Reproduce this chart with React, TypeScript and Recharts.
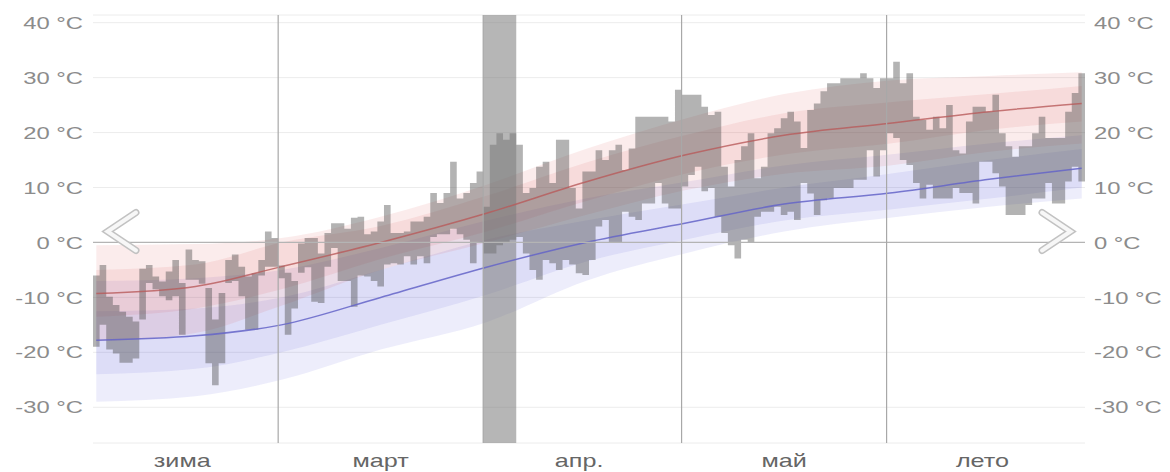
import React from 'react';
import {
  ComposedChart,
  Area,
  Line,
  XAxis,
  YAxis,
  CartesianGrid,
  ReferenceLine,
  ReferenceArea,
} from 'recharts';

// daily max / min temperatures, Feb 1 .. Jun 30 (150 days)
const maxTemp = [
  -6, -4.1, -9.9, -11.4, -12.6, -13.5, -14.4, -4.8, -4.1, -6.2, -7.1, -5.3, -3.2, -7.4, -1.3, -3.2, -3.4, -8.3, -14, -9.2,
  -3.2, -2.2, -4.4, -6.2, -5.6, -3.2, 2, 0.8,
  -4.2, -5.5, -7, -0.2, 0.8, 0.8, -2, 1.7, 3.5, 3.5, 2.5, 4.5, 4.7, 1.5, 2, 3.8, 6.8, 1.7, 1.7, 2, 3.8, 3.8,
  4.7, 9, 7.2, 9, 14.7, 8, 9, 10.8, 12.9,
  6.5, 17.8, 19.9, 18.7, 19.9, 17.8, 9, 9.9, 13.8, 14.7, 10.8, 18.7, 18.7, 9.9, 6.2, 12.9, 12.9, 16.8, 15, 16.8,
  17.8, 13.2, 17.1, 22.9, 22.9, 22.9, 22.9, 22.9, 22, 27.8,
  26.9, 26.9, 26.9, 24.7, 23.2, 23.8, 13.8, 10.2, 15, 17.5, 19.9, 11.7, 13.8, 19.9, 20.8, 22.6, 23.8, 22, 17.2, 24.1,
  25.3, 27.5, 29, 29, 29.9, 29.9, 29.9, 30.8, 29.9, 28.1, 29.9,
  29.9, 32.9, 29, 30.8, 22.9, 22.3, 20.5, 22.9, 20.8, 25, 16.8, 16.2, 22, 24.7, 24.7, 23.8, 26.9, 19.9, 17.5, 15.6,
  17.5, 17.5, 19.9, 22.9, 19, 19, 19, 23.8, 27.2, 30.8,
];
const minTemp = [
  -19, -15, -19.5, -20.2, -21.9, -21.9, -21.1, -14, -7.4, -8.5, -9.8, -10.5, -9.8, -16.8, -6.8, -6.8, -7.5, -22, -26, -22,
  -7.4, -7, -9.8, -15.9, -15.9, -6, -4.4, -4.4,
  -6.5, -16.8, -12, -5.5, -4.5, -10.8, -11, -4.4, -1, -7, -7, -11.7, -6, -6.2, -7, -8, -4, -3.8, -4, -2.5, -4, -2.5,
  -3.8, 1, 1.5, 1.5, 2.5, 1.5, 0.5, -3.8, 0,
  -2, -2, -0.5, 0, 0.5, 1, -2, -5, -6.8, -3.2, -3.8, -5, -3.2, -4, -5.6, -5.9, -3.2, 2.9, 4.1, 0,
  0, 5.6, 4.7, 4.1, 7.1, 7.1, 10.8, 7.1, 6.2, 6.2,
  10.2, 12.3, 13.8, 9.3, 9.9, 4.7, 1.7, -0.5, -2.9, 0.5, 0, 4.7, 5.6, 5.6, 6.5, 5, 5.6, 4.1, 10.8, 8.9,
  5, 7.7, 8, 9.9, 9.9, 9.9, 11.4, 11.4, 16.8, 12, 16.8,
  19.9, 19, 15, 14.1, 10.8, 8, 10.5, 8, 8, 8, 9.9, 9, 9, 7.1, 14.7, 14.7, 12.6, 10.2, 5, 5,
  5, 6.8, 8, 8, 10.8, 7.1, 7.1, 11.1, 13.8, 11.1,
];

const monthStartDays = [28, 59, 89, 120];
const monthLabelDays = [13, 43, 73, 104, 134];
const monthLabels = ['зима', 'март', 'апр.', 'май', 'лето'];
const highlightDays = [59, 63];
const yTicks = [-30, -20, -10, 0, 10, 20, 30, 40];

// climate bands, read at a few days along the season
const bandDays = [0, 15, 28, 43, 59, 74, 89, 104, 120, 135, 149];
const redMean = [-9.3, -8, -4.4, 0, 5.3, 11, 15.9, 19.5, 21.7, 23.8, 25.3];
const redOuterHi = [-0.5, -0.3, 0.8, 4.7, 10.5, 17, 22.5, 27, 29.5, 30.3, 31];
const redOuterLo = [-18, -16.5, -11.5, -5, 0, 5, 9.5, 12.5, 14, 16.5, 18];
const redInnerHi = [-5, -4, 0, 3, 8.5, 14.5, 19.5, 23.5, 25.5, 27, 28.5];
const redInnerLo = [-13.5, -12, -8.5, -3, 2, 7.5, 12.5, 16, 18, 20.5, 22];
const blueMean = [-17.8, -17, -15, -10, -4.5, 0, 3.5, 7, 9, 11.5, 13.5];
const blueOuterHi = [-7, -6.5, -5, -1, 4, 8, 11, 14, 16, 18, 19.5];
const blueOuterLo = [-29, -28, -25, -19.5, -14.5, -7, -2, 2, 4.5, 6.5, 8];
const blueInnerHi = [-12.5, -12, -10, -5, 0.5, 4, 7, 10, 12.5, 15, 17];
const blueInnerLo = [-24, -23, -20, -15, -9.5, -3.5, 0.5, 4, 6, 8, 10];

const dailyData = maxTemp.map((hi, i) => ({ day: i, range: [minTemp[i], hi] }));

// each day is a step from its start to the next day's start; the last day closes at day 150
const stepData = [
  ...dailyData.map((d) => ({ x: d.day, range: d.range })),
  { x: maxTemp.length, range: dailyData[dailyData.length - 1].range },
];

const bandData = bandDays.map((d, i) => ({
  x: d + 0.5,
  redOuter: [redOuterLo[i], redOuterHi[i]],
  redInner: [redInnerLo[i], redInnerHi[i]],
  redMean: redMean[i],
  blueOuter: [blueOuterLo[i], blueOuterHi[i]],
  blueInner: [blueInnerLo[i], blueInnerHi[i]],
  blueMean: blueMean[i],
}));

const FONT = '"Liberation Sans", Arial, sans-serif';
const CHART_H = 472;
const X_AXIS_H = 29;
const PLOT_BOTTOM = CHART_H - X_AXIS_H;

const YTick = (props: any) => {
  const { x, y, payload, side } = props;
  return (
    <g transform={`translate(${x},${y}) scale(1.4,1)`}>
      <text
        textAnchor={side === 'left' ? 'end' : 'start'}
        dy="0.36em"
        fontSize={17}
        fill="#8c8c8c"
        fontFamily={FONT}
      >
        {`${payload.value} °C`}
      </text>
    </g>
  );
};

const XTick = (props: any) => {
  const { x, payload } = props;
  const idx = monthLabelDays.indexOf(payload.value);
  return (
    <g transform={`translate(${x},${PLOT_BOTTOM + 24}) scale(1.4,1)`}>
      <text textAnchor="middle" fontSize={18} fill="#666" fontFamily={FONT}>
        {monthLabels[idx]}
      </text>
    </g>
  );
};

const Chevron = ({ points }: { points: string }) => (
  <g>
    <polyline points={points} fill="none" stroke="#c2c2c2" strokeWidth={7} strokeLinejoin="miter" strokeLinecap="round" />
    <polyline points={points} fill="none" stroke="#f7f7f7" strokeWidth={4} strokeLinejoin="miter" strokeLinecap="round" />
  </g>
);

export default function App() {
  return (
    <div style={{ position: 'absolute', left: 0, top: 0, width: 1170, height: CHART_H, background: '#fff' }}>
      <ComposedChart
        width={1170}
        height={CHART_H}
        data={dailyData}
        margin={{ top: 15, right: 0, bottom: 0, left: 0 }}
        style={{ fontFamily: FONT }}
      >
        <CartesianGrid xAxisId="m" yAxisId="l" vertical={false} stroke="#ececec" />
        <XAxis
          xAxisId="m"
          dataKey="day"
          type="category"
          scale="band"
          ticks={monthLabelDays}
          interval={0}
          tickLine={false}
          axisLine={false}
          tickSize={0}
          tickMargin={0}
          height={X_AXIS_H}
          tick={<XTick />}
        />
        <XAxis xAxisId="b" type="number" dataKey="x" domain={[0, 150]} allowDataOverflow hide />
        <YAxis
          yAxisId="l"
          orientation="left"
          width={93}
          domain={[-36.5, 41.4]}
          ticks={yTicks}
          allowDataOverflow
          tickLine={false}
          axisLine={false}
          tickSize={0}
          tickMargin={10}
          tick={<YTick side="left" />}
        />
        <YAxis
          yAxisId="r"
          orientation="right"
          width={85}
          domain={[-36.5, 41.4]}
          ticks={yTicks}
          allowDataOverflow
          tickLine={false}
          axisLine={false}
          tickSize={0}
          tickMargin={9}
          tick={<YTick side="right" />}
        />

        <Area data={bandData} xAxisId="b" yAxisId="l" dataKey="blueOuter" type="monotone" stroke="none" fill="#5a5adc" fillOpacity={0.11} isAnimationActive={false} />
        <Area data={bandData} xAxisId="b" yAxisId="l" dataKey="blueInner" type="monotone" stroke="none" fill="#5a5adc" fillOpacity={0.11} isAnimationActive={false} />
        <Area data={bandData} xAxisId="b" yAxisId="l" dataKey="redOuter" type="monotone" stroke="none" fill="#dc5050" fillOpacity={0.11} isAnimationActive={false} />
        <Area data={bandData} xAxisId="b" yAxisId="l" dataKey="redInner" type="monotone" stroke="none" fill="#dc5050" fillOpacity={0.11} isAnimationActive={false} />
        <Line data={bandData} xAxisId="b" yAxisId="l" dataKey="blueMean" type="monotone" stroke="#6464c8" strokeOpacity={0.85} strokeWidth={1.5} dot={false} isAnimationActive={false} />
        <Line data={bandData} xAxisId="b" yAxisId="l" dataKey="redMean" type="monotone" stroke="#b85a5a" strokeOpacity={0.8} strokeWidth={1.5} dot={false} isAnimationActive={false} />

        <ReferenceLine xAxisId="m" yAxisId="l" y={0} stroke="#b4b4b4" strokeWidth={1.2} />
        {monthStartDays.map((d) => (
          <ReferenceLine key={d} xAxisId="m" yAxisId="l" x={d} position="start" stroke="#a8a8a8" strokeWidth={1.2} />
        ))}

        <Area
          data={stepData}
          xAxisId="b"
          yAxisId="l"
          dataKey="range"
          type="stepAfter"
          stroke="none"
          fill="#4a4a4a"
          fillOpacity={0.42}
          isAnimationActive={false}
        />

        <ReferenceArea
          xAxisId="m"
          yAxisId="l"
          x1={highlightDays[0]}
          x2={highlightDays[1]}
          fill="#7a7a7a"
          fillOpacity={0.55}
          stroke="none"
        />
      </ComposedChart>
      <svg width={1170} height={CHART_H} style={{ position: 'absolute', left: 0, top: 0, pointerEvents: 'none' }}>
        <Chevron points="136,212.5 107.5,231.5 136,250.5" />
        <Chevron points="1042,212.5 1070.5,231.5 1042,250.5" />
      </svg>
    </div>
  );
}
